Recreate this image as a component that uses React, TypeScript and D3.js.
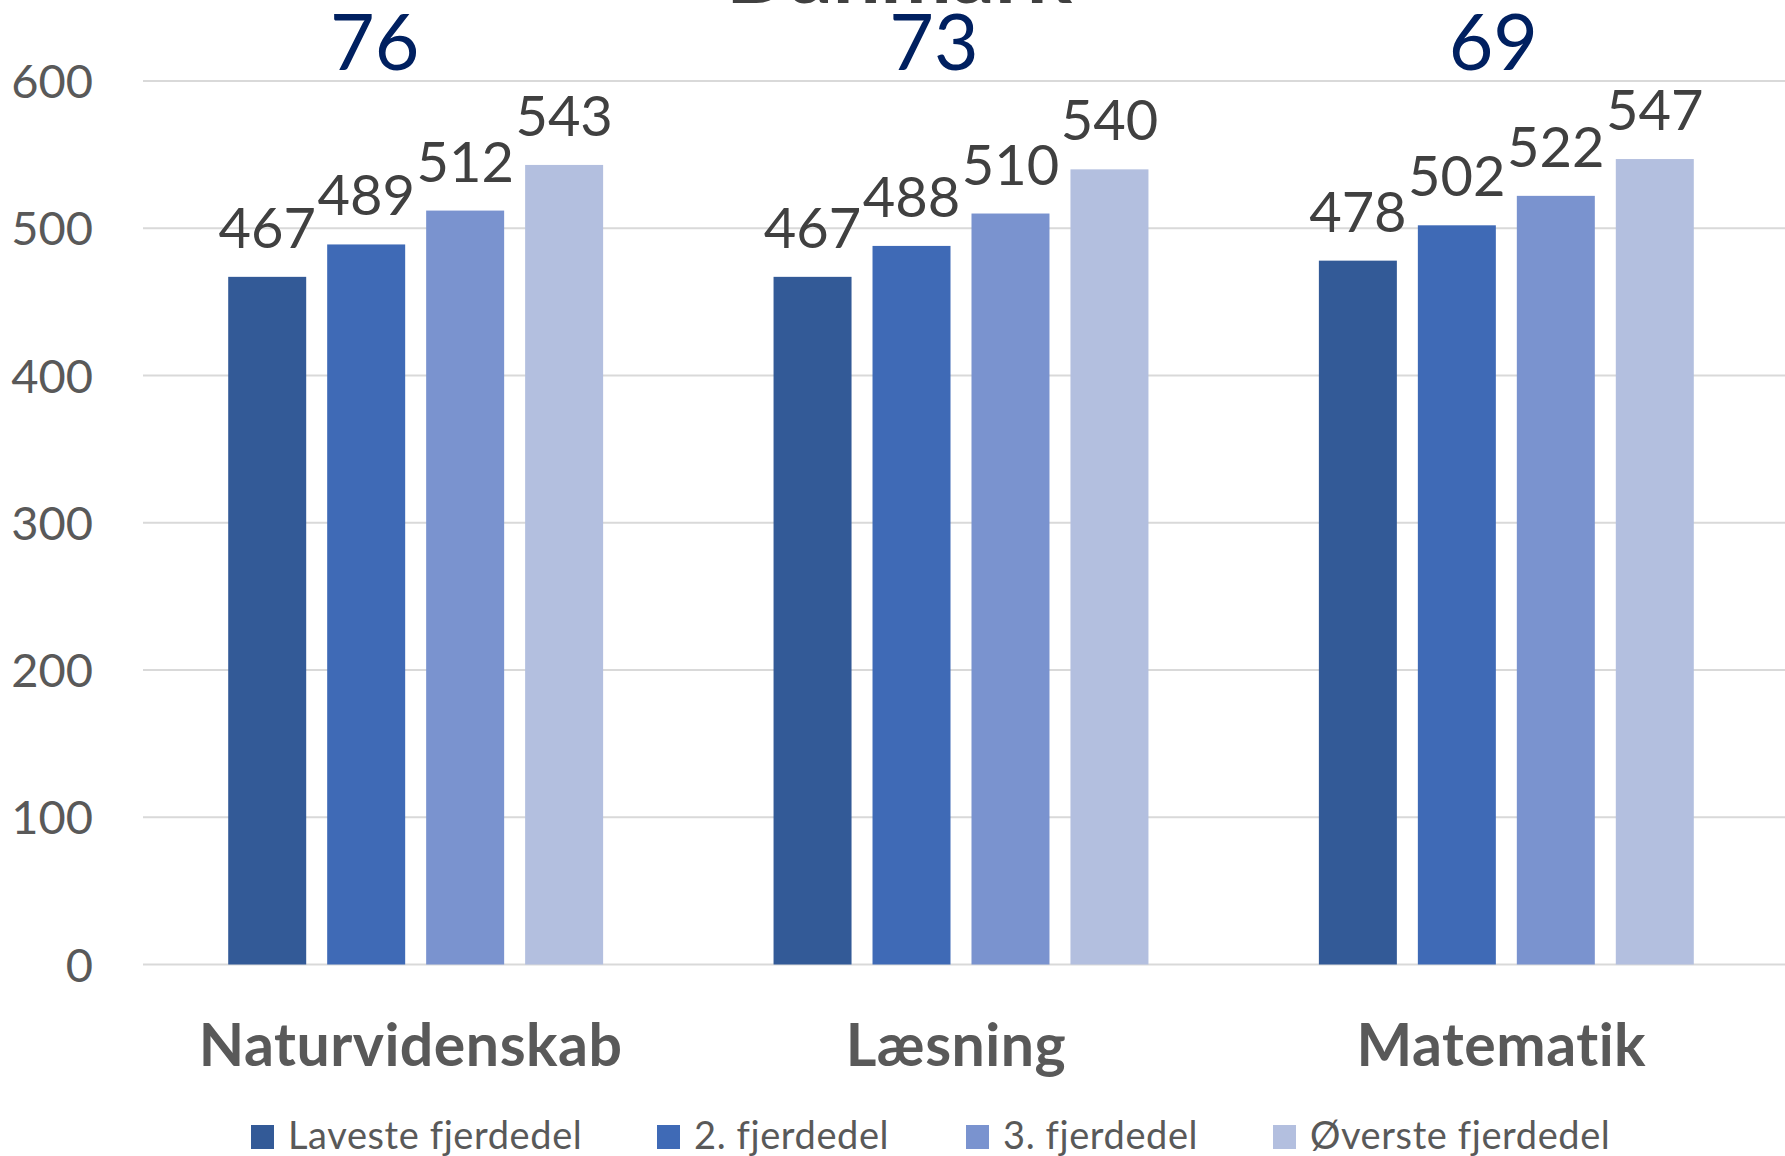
import * as d3 from "d3";

const categories = ["Naturvidenskab", "Læsning", "Matematik"];
const seriesNames = ["Laveste fjerdedel", "2. fjerdedel", "3. fjerdedel", "Øverste fjerdedel"];
// values per series, in category order
const laveste = [467, 467, 478];
const anden = [489, 488, 502];
const tredje = [512, 510, 522];
const oeverste = [543, 540, 547];
const differences = [76, 73, 69];
const yTicks = [0, 100, 200, 300, 400, 500, 600];
const chartTitle = "Danmark";

const seriesValues = [laveste, anden, tredje, oeverste];
const COLORS = ["#335A97", "#3F6AB6", "#7A93CF", "#B3BFDF"];

const W = 1785;
const H = 1156;
const PLOT = { left: 143, right: 1779, top: 81, bottom: 964.5 };
// the difference labels sit a bit left of the group centre, as in the original
const DIFF_SHIFT = [-41, -27, -13];
const LEGEND_X = [251, 657, 966, 1273];
const FONT = "Lato, 'Open Sans', sans-serif";

export default function App() {
  const x0 = d3
    .scaleBand<string>()
    .domain(categories)
    .range([PLOT.left, PLOT.right])
    .paddingInner(0.3125)
    .paddingOuter(0.15625);

  const x1 = d3
    .scaleBand<string>()
    .domain(seriesNames)
    .range([0, x0.bandwidth()])
    .paddingInner(0.212);

  const y = d3.scaleLinear().domain([0, 600]).range([PLOT.bottom, PLOT.top]);

  return (
    <div>
      <style>{`body{margin:0}`}</style>
      <svg width={W} height={H} style={{ display: "block" }} fontFamily={FONT}>
        <rect width={W} height={H} fill="#ffffff" />

        {/* title, mostly cropped off at the top */}
        <text x={899} y={3} textAnchor="middle" fontSize={85} fontWeight="bold" fill="#404040">
          {chartTitle}
        </text>

        {/* gridlines */}
        {yTicks.map((t) => (
          <line
            key={t}
            x1={PLOT.left}
            x2={W}
            y1={y(t)}
            y2={y(t)}
            stroke="#D9D9D9"
            strokeWidth={2}
          />
        ))}

        {/* y tick labels */}
        {yTicks.map((t) => (
          <text
            key={"yl" + t}
            x={93}
            y={y(t) + 17}
            textAnchor="end"
            fontSize={47}
            fill="#595959"
          >
            {t}
          </text>
        ))}

        {/* bars + labels */}
        {categories.map((c, ci) => (
          <g key={c} transform={`translate(${x0(c)},0)`}>
            {seriesNames.map((s, si) => {
              const v = seriesValues[si][ci];
              const bx = x1(s) ?? 0;
              return (
                <g key={s}>
                  <rect
                    x={bx}
                    y={y(v)}
                    width={x1.bandwidth()}
                    height={y(0) - y(v)}
                    fill={COLORS[si]}
                  />
                  <text
                    x={bx + x1.bandwidth() / 2}
                    y={y(v) - 29}
                    textAnchor="middle"
                    fontSize={56}
                    fill="#404040"
                  >
                    {v}
                  </text>
                </g>
              );
            })}
          </g>
        ))}

        {/* difference between top and bottom quartile */}
        {categories.map((c, ci) => (
          <text
            key={"d" + c}
            x={(x0(c) ?? 0) + x0.bandwidth() / 2 + DIFF_SHIFT[ci]}
            y={70}
            textAnchor="middle"
            fontSize={77}
            fill="#002060"
          >
            {differences[ci]}
          </text>
        ))}

        {/* category labels */}
        {categories.map((c) => (
          <text
            key={"c" + c}
            x={(x0(c) ?? 0) + x0.bandwidth() / 2 - 5}
            y={1066}
            textAnchor="middle"
            fontSize={59}
            fontWeight="bold"
            fill="#595959"
            letterSpacing={0.5}
          >
            {c}
          </text>
        ))}

        {/* legend */}
        {seriesNames.map((s, si) => (
          <g key={"lg" + s} transform={`translate(${LEGEND_X[si]},1125)`}>
            <rect width={23} height={24} fill={COLORS[si]} />
            <text x={37} y={24} fontSize={38} fill="#595959" letterSpacing={0.6}>
              {s}
            </text>
          </g>
        ))}
      </svg>
    </div>
  );
}
